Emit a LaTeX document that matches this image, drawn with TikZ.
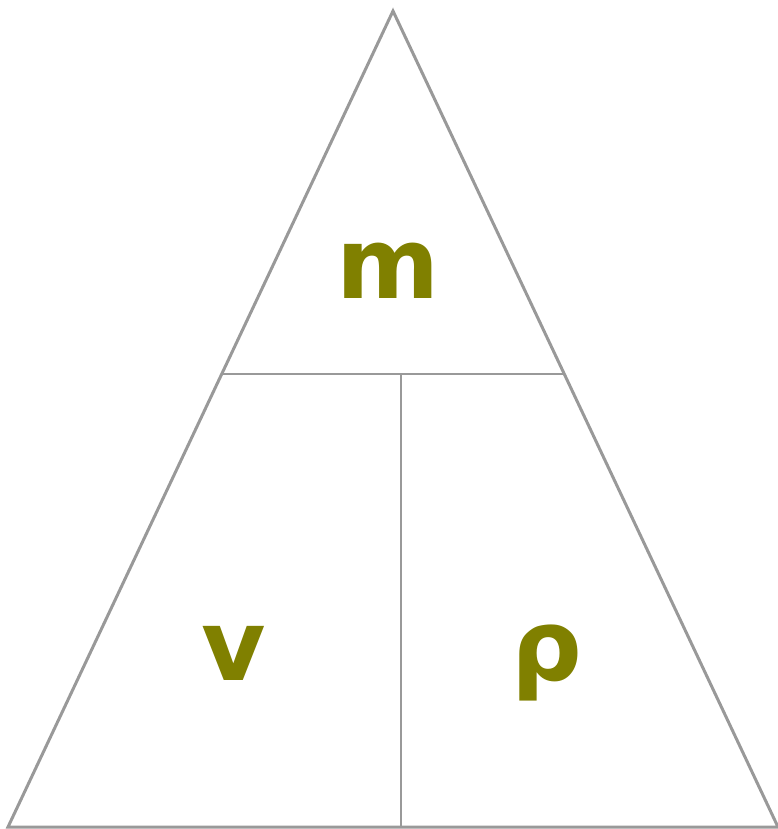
\documentclass[tikz,border=0pt]{standalone}
\usepackage{fontspec}
\setmainfont{DejaVu Sans}
\usepackage{xcolor}
\usepackage{tikz}
\usetikzlibrary{positioning, calc}
\definecolor{olivetext}{HTML}{808000}
\definecolor{edgegray}{HTML}{999999}

\begin{document}
\begin{tikzpicture}[
      x=1pt, y=-1pt,
      outer/.style={draw=edgegray, line width=3pt, line join=miter},
      inner/.style={draw=edgegray, line width=2pt},
      qty/.style={anchor=base, inner sep=0pt, text=olivetext, font=\fontsize{99}{99}\selectfont\bfseries}
  ]
  \useasboundingbox (0,0) rectangle (778,829);

  \coordinate (apex) at (393,11);
  \coordinate (botleft) at (8,827);
  \coordinate (botright) at (778,827);
  \coordinate (midleft) at (222,374);
  \coordinate (midright) at (565,374);
  \coordinate (split) at (401,374);
  \coordinate (splitbot) at (401,827);

  \node[qty] (mass) at (388,298) {m};
  \node[qty] (volume) at (234,680) {v};
  \node[qty] (density) at (547,680) {ρ};

  \draw[inner] (midleft) -- (midright);
  \draw[inner] (split) -- (splitbot);
  \draw[outer] (botleft) -- (apex) -- (botright) -- cycle;

\end{tikzpicture}
\end{document}
